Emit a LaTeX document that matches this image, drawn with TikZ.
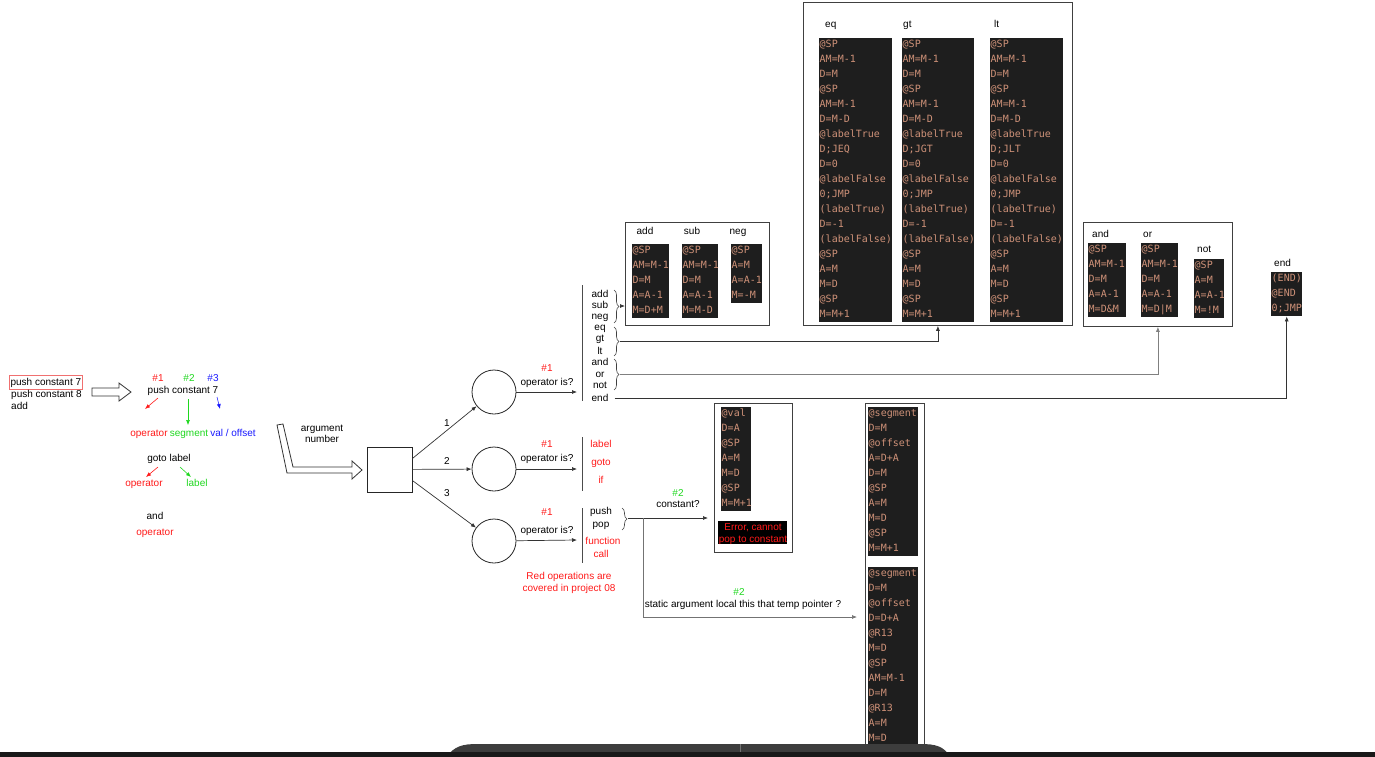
\documentclass[tikz,border=0pt]{standalone}
\usepackage{fontspec}
\setmainfont{Liberation Sans}
\newfontfamily\codefont{DejaVu Sans Mono}
\usetikzlibrary{arrows.meta,decorations.pathreplacing,calc}
\definecolor{codebg}{HTML}{1E1E1E}
\definecolor{codefg}{HTML}{CE9178}
\definecolor{myred}{HTML}{FF1A1A}
\definecolor{mygreen}{HTML}{1FD81F}
\definecolor{myblue}{HTML}{1A1AFF}
\definecolor{boxred}{HTML}{F07070}
\newcommand{\codeblk}[6]{%
  \node[codebox, minimum width=#4pt, minimum height={15*#5-1}, anchor=north west] (#1) at (#2,#3) {};
  \node[codetxt, anchor=base west] (#1t) at (#2+0.5,#3+9.5) {\begin{tabular}[t]{@{}l@{}}#6\end{tabular}};
}
\begin{document}
\begin{tikzpicture}[x=1pt,y=-1pt,
  txt/.style={font=\fontsize{10}{12}\selectfont, inner sep=0pt, text height=8pt, text depth=2pt},
  redtxt/.style={txt, text=myred},
  grntxt/.style={txt, text=mygreen},
  blutxt/.style={txt, text=myblue},
  frame/.style={draw=black!75, line width=0.8pt, fill=white, inner sep=0pt, anchor=north west},
  codebox/.style={fill=codebg, inner sep=0pt, draw=none},
  codetxt/.style={font=\codefont\fontsize{10}{15}\selectfont, text=codefg, inner sep=0pt},
  arr/.style={-{Latex[length=5pt,width=4pt]}, line width=0.7pt, draw=black!80},
  conn/.style={line width=0.7pt, draw=black!70},
  hollow/.style={draw=black!80, fill=white, line width=0.8pt, line join=miter},
  brc/.style={decorate, decoration={brace, amplitude=5pt}, line width=0.6pt, draw=black!75},
]
\useasboundingbox (0,0) rectangle (1375,757);
\fill[white] (0,0) rectangle (1375,757);

% ---------------- left part ----------------
\node[txt, draw=boxred, line width=0.7pt, inner xsep=1.2pt, inner ysep=2pt, anchor=west] (src1) at (9,382) {push constant 7};
\node[txt, anchor=west] (src2) at (11,394) {push constant 8};
\node[txt, anchor=west] (src3) at (11,406) {add};
\draw[hollow] (92,388) -- (119,388) -- (119,383) -- (131,392) -- (119,401) -- (119,396) -- (92,396) -- cycle;

\node[redtxt] (h1) at (158,378) {\#1};
\node[grntxt] (h2) at (189,378) {\#2};
\node[blutxt] (h3) at (213,378) {\#3};
\node[txt] (pc7) at (183,390) {push constant 7};
\coordinate (ra1) at (158,398); \coordinate (ra2) at (145,409);
\coordinate (ga1) at (188,399); \coordinate (ga2) at (188,425);
\coordinate (ba1) at (217,397); \coordinate (ba2) at (220,409);
\draw[arr, draw=myred, line width=0.6pt] (ra1) -- (ra2);
\draw[arr, draw=mygreen, line width=0.6pt] (ga1) -- (ga2);
\draw[arr, draw=myblue, line width=0.6pt] (ba1) -- (ba2);
\node[redtxt] (op1) at (149,433) {operator};
\node[grntxt] (seg) at (189,433) {segment};
\node[blutxt] (valoff) at (233,433) {val / offset};

\node[txt] (gl) at (169,458) {goto label};
\coordinate (ra3) at (158,467); \coordinate (ra4) at (146,477);
\coordinate (ga3) at (180,467); \coordinate (ga4) at (191,477);
\draw[arr, draw=myred, line width=0.6pt] (ra3) -- (ra4);
\draw[arr, draw=mygreen, line width=0.6pt] (ga3) -- (ga4);
\node[redtxt] (op2) at (144,483) {operator};
\node[grntxt] (lab) at (197,483) {label};
\node[txt] (andt) at (155,516) {and};
\node[redtxt] (op3) at (155,532) {operator};

\draw[hollow] (277,425) -- (283,424) -- (293,467) -- (352,467) -- (352,461) -- (362,470) -- (352,479) -- (352,473) -- (287,473) -- cycle;
\node[txt] (argn1) at (322,428) {argument};
\node[txt] (argn2) at (322,439) {number};

% ---------------- dispatcher ----------------
\node[draw=black!85, line width=0.8pt, minimum size=45pt, inner sep=0pt] (sq) at (389.5,469.5) {};
\node[draw=black!85, line width=0.8pt, circle, minimum size=44pt, inner sep=0pt] (c1) at (494,392) {};
\node[draw=black!85, line width=0.8pt, circle, minimum size=44pt, inner sep=0pt] (c2) at (494,469) {};
\node[draw=black!85, line width=0.8pt, circle, minimum size=44pt, inner sep=0pt] (c3) at (494,541) {};
\draw[arr] ([yshift=11pt]sq.east) -- (c1);
\draw[arr] (sq) -- (c2);
\draw[arr] ([yshift=-11pt]sq.east) -- (c3);
\node[txt] (n1) at (447,423) {1};
\node[txt] (n2) at (447,461) {2};
\node[txt] (n3) at (447,493) {3};

\node[redtxt] (q1a) at (547,368) {\#1};
\node[txt] (q1b) at (547,382) {operator is?};
\node[redtxt] (q2a) at (547,444) {\#1};
\node[txt] (q2b) at (547,458) {operator is?};
\node[redtxt] (q3a) at (547,512) {\#1};
\node[txt] (q3b) at (547,530) {operator is?};
\coordinate (v1) at (577,392);
\coordinate (v2) at (577,469);
\coordinate (v3) at (577,540);
\draw[arr] (c1) -- (v1);
\draw[arr] (c2) -- (v2);
\draw[arr] (c3) -- (v3);

\draw[conn] (582,285) -- (582,401);
\draw[conn] (582,437) -- (582,491);
\draw[conn] (582,508) -- (582,563);

\foreach \t/\y [count=\i] in {add/294, sub/305, neg/316, eq/327, gt/338, lt/351, and/362, or/374, not/385, end/398}
  \node[txt] (l\i) at (600,\y) {\t};
\node[redtxt] (g2a) at (601,444) {label};
\node[redtxt] (g2b) at (601,462) {goto};
\node[redtxt] (g2c) at (601,480) {if};
\node[txt] (g3a) at (601,511) {push};
\node[txt] (g3b) at (601,524) {pop};
\node[redtxt] (g3c) at (603,541) {function};
\node[redtxt] (g3d) at (601,554) {call};
\node[redtxt] (note1) at (569,576) {Red operations are};
\node[redtxt] (note2) at (569,588) {covered in project 08};

\draw[brc] (614,290) -- (614,323);
\draw[brc] (614,327) -- (614,356);
\draw[brc] (614,359) -- (614,390);
\draw[brc] (622,508) -- (622,530);

% ---------------- arithmetic box ----------------
\node[frame, minimum width=144pt, minimum height=103pt] (boxar) at (625,222) {};
\node[txt] (la1) at (645,231) {add};
\node[txt] (la2) at (692,231) {sub};
\node[txt] (la3) at (738,231) {neg};
\codeblk{cadd}{632}{244}{37}{5}{@SP\\AM=M-1\\D=M\\A=A-1\\M=D+M}
\codeblk{csub}{682}{244}{36}{5}{@SP\\AM=M-1\\D=M\\A=A-1\\M=M-D}
\codeblk{cneg}{731}{244}{31}{4}{@SP\\A=M\\A=A-1\\M=-M}

% ---------------- comparison box ----------------
\node[frame, minimum width=269pt, minimum height=323pt] (boxcmp) at (803,2) {};
\node[txt, anchor=west] (le1) at (825,25) {eq};
\node[txt, anchor=west] (le2) at (903,25) {gt};
\node[txt, anchor=west] (le3) at (994,25) {lt};
\codeblk{ceq}{819}{38}{73}{19}{@SP\\AM=M-1\\D=M\\@SP\\AM=M-1\\D=M-D\\@labelTrue\\D;JEQ\\D=0\\@labelFalse\\0;JMP\\(labelTrue)\\D=-1\\(labelFalse)\\@SP\\A=M\\M=D\\@SP\\M=M+1}
\codeblk{cgt}{902}{38}{72}{19}{@SP\\AM=M-1\\D=M\\@SP\\AM=M-1\\D=M-D\\@labelTrue\\D;JGT\\D=0\\@labelFalse\\0;JMP\\(labelTrue)\\D=-1\\(labelFalse)\\@SP\\A=M\\M=D\\@SP\\M=M+1}
\codeblk{clt}{990}{38}{73}{19}{@SP\\AM=M-1\\D=M\\@SP\\AM=M-1\\D=M-D\\@labelTrue\\D;JLT\\D=0\\@labelFalse\\0;JMP\\(labelTrue)\\D=-1\\(labelFalse)\\@SP\\A=M\\M=D\\@SP\\M=M+1}

% ---------------- logic box ----------------
\node[frame, minimum width=149pt, minimum height=104pt] (boxlog) at (1083,222) {};
\node[txt, anchor=west] (ll1) at (1092,234) {and};
\node[txt, anchor=west] (ll2) at (1143,234) {or};
\node[txt, anchor=west] (ll3) at (1197,249) {not};
\codeblk{cand}{1088}{243}{38}{5}{@SP\\AM=M-1\\D=M\\A=A-1\\M=D\&M}
\codeblk{cor}{1141}{243}{37}{5}{@SP\\AM=M-1\\D=M\\A=A-1\\M=D|M}
\codeblk{cnot}{1194}{259}{30}{4}{@SP\\A=M\\A=A-1\\M=!M}

% ---------------- end ----------------
\node[txt, anchor=west] (lend) at (1274,263) {end};
\codeblk{cend}{1271}{272}{31}{3}{(END)\\@END\\0;JMP}

% ---------------- connectors from the lists ----------------
\coordinate (b1tip) at (620,306);
\coordinate (b2tip) at (620,341);
\coordinate (b3tip) at (620,374);
\draw[arr] (b1tip) -- (b1tip -| boxar.west);
\draw[arr] (b2tip) -| (boxcmp.south);
\draw[arr, draw=black!50] (b3tip) -| (boxlog.south);
\draw[arr] ([xshift=6pt]l10.east) -| (cend.south);

% ---------------- push / pop ----------------
\node[frame, minimum width=78pt, minimum height=149pt] (cbox) at (714,403) {};
\codeblk{cconst}{721}{407}{30}{7}{@val\\D=A\\@SP\\A=M\\M=D\\@SP\\M=M+1}
\node[fill=black, inner sep=0pt, minimum width=69pt, minimum height=23pt, anchor=north west] (err) at (718,521) {};
\node[redtxt] (err1) at (753,527) {Error, cannot};
\node[redtxt] (err2) at (753,539) {pop to constant};

\node[frame, minimum width=59pt, minimum height=345pt] (segbox) at (865,403) {};
\codeblk{cseg1}{868}{407}{50}{10}{@segment\\D=M\\@offset\\A=D+A\\D=M\\@SP\\A=M\\M=D\\@SP\\M=M+1}
\codeblk{cseg2}{868}{567}{50}{12}{@segment\\D=M\\@offset\\D=D+A\\@R13\\M=D\\@SP\\AM=M-1\\D=M\\@R13\\A=M\\M=D}

\node[grntxt] (k1) at (678,493) {\#2};
\node[txt] (k2) at (678,504) {constant?};
\node[grntxt] (k3) at (739,592) {\#2};
\node[txt] (k4) at (743,604) {static argument local this that temp pointer ?};
\coordinate (b4tip) at (628,518);
\coordinate (jn) at (643,518);
\coordinate (sarr) at (857,617);
\draw[arr, shorten >=6pt] (b4tip) -- (b4tip -| cbox.west);
\draw[arr, draw=black!55] (jn) |- (sarr);

% ---------------- bottom bar of the screenshot ----------------
\fill[black!76] (446,757) .. controls (455,746) and (462,744) .. (478,744) -- (920,744) .. controls (936,744) and (943,746) .. (951,757) -- cycle;
\draw[black!55, line width=0.6pt] (740,744) -- (740,757);
\fill[black!90] (0,751.5) rectangle (1375,757);
\end{tikzpicture}
\end{document}
